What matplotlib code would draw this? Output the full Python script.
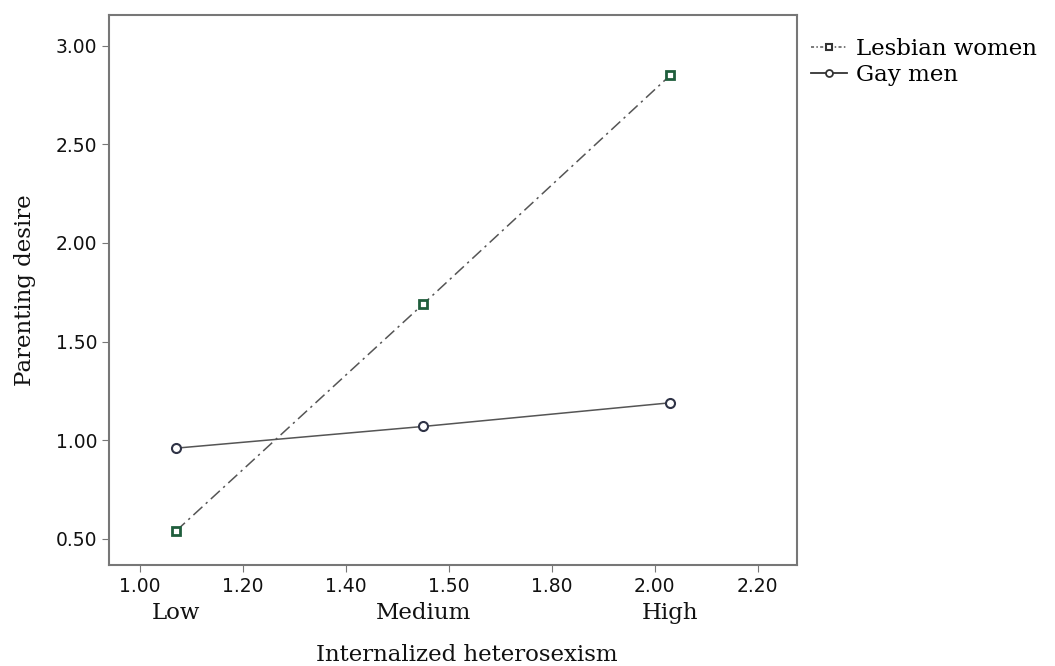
import matplotlib
matplotlib.use("Agg")
import matplotlib.pyplot as plt
from matplotlib.lines import Line2D

# Data
levels = ["Low", "Medium", "High"]
ih_values = [1.07, 1.55, 2.03]
lesbian_women = [0.54, 1.69, 2.85]
gay_men = [0.96, 1.07, 1.19]
x_ticks = [1.00, 1.20, 1.40, 1.60, 1.80, 2.00, 2.20]
x_tick_labels = ["1.00", "1.20", "1.40", "1.50", "1.80", "2.00", "2.20"]
y_ticks = [0.50, 1.00, 1.50, 2.00, 2.50, 3.00]

serif = ["DejaVu Serif"]

fig = plt.figure(figsize=(10.55, 6.66), dpi=100)
ax = fig.add_axes([109/1055, 1-565/666, (797-109)/1055, (565-15)/666])

ax.plot(ih_values, lesbian_women, linestyle=(0, (8, 3, 1.5, 3)), color="#555555",
        linewidth=1.1, marker="s", markersize=6, markerfacecolor="white",
        markeredgecolor="#1f5e3c", markeredgewidth=2, label="Lesbian women")
ax.plot(ih_values, gay_men, linestyle="-", color="#555555", linewidth=1.1,
        marker="o", markersize=6.5, markerfacecolor="white",
        markeredgecolor="#2f3346", markeredgewidth=1.5, label="Gay men")

ax.set_xlim(0.94, 2.276)
ax.set_ylim(0.368, 3.155)
ax.set_xticks(x_ticks)
ax.set_xticklabels(x_tick_labels)
ax.set_yticks(y_ticks)
ax.set_yticklabels([f"{v:.2f}" for v in y_ticks])
ax.tick_params(labelsize=13.5, length=5, width=0.8, color="#777777", labelcolor="#111111")
for s in ax.spines.values():
    s.set_color("#777777")
    s.set_linewidth(1.5)

for xv, lab in zip(ih_values, levels):
    ax.text(xv, -0.088, lab, transform=ax.get_xaxis_transform(), ha="center", va="center",
            fontsize=16.5, family=serif, color="#111111")

ax.set_xlabel("Internalized heterosexism", fontsize=16.5, family=serif, labelpad=34, color="#111111")
ax.xaxis.set_label_coords(0.52, -0.143)
ax.xaxis.label.set_va("top")
ax.set_ylabel("Parenting desire", fontsize=16.5, family=serif, labelpad=14, color="#111111")

handles = [
    Line2D([], [], linestyle=(0, (2, 1.5, 1, 1.5)), color="#555555", linewidth=1.1, marker="s",
           markersize=5, markerfacecolor="white", markeredgecolor="#333333", markeredgewidth=1.5),
    Line2D([], [], linestyle="-", color="#333333", linewidth=1.3, marker="o",
           markersize=5, markerfacecolor="white", markeredgecolor="#333333", markeredgewidth=1.3),
]
fig.legend(handles, ["Lesbian women", "Gay men"], loc="upper left",
           bbox_to_anchor=(790/1055, 1-17/666), frameon=False, handlelength=1.6,
           handletextpad=0.4, labelspacing=0.2, prop={"family": serif, "size": 16.5})

fig.savefig("out.png", dpi=100, facecolor="white")
